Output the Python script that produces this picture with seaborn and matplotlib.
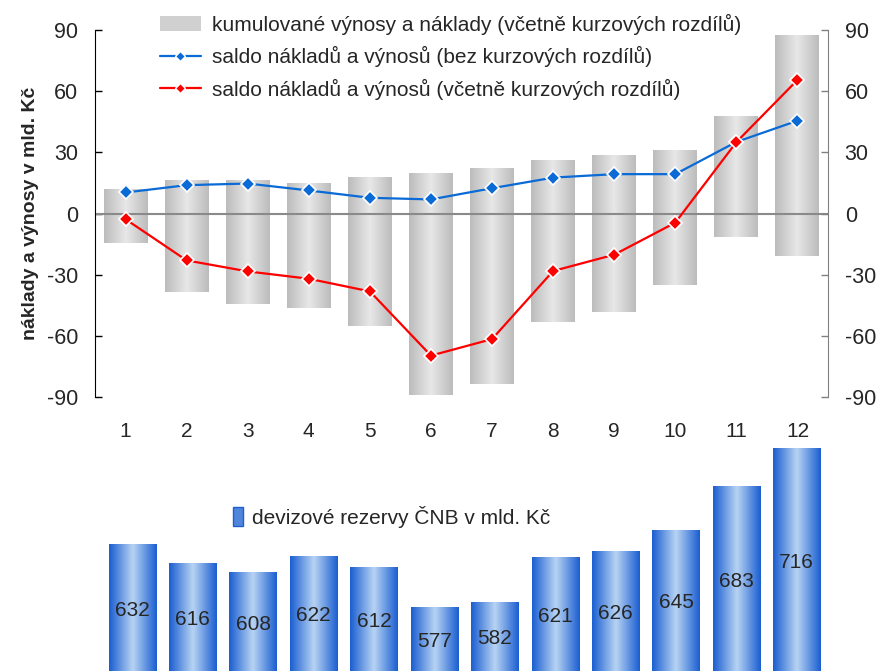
import numpy as np
import pandas as pd
import seaborn as sns
import matplotlib.pyplot as plt
from matplotlib.colors import LinearSegmentedColormap
from matplotlib.patches import Patch
from matplotlib.lines import Line2D

# data
mesice = ['1', '2', '3', '4', '5', '6', '7', '8', '9', '10', '11', '12']
vynosy = [11.5, 15.7, 15.7, 14.7, 17.4, 19.3, 22.0, 25.8, 28.4, 30.8, 47.4, 87.0]
naklady = [-14.3, -38.4, -44.4, -46.3, -55.1, -89.2, -83.8, -53.1, -48.5, -35.3, -11.6, -20.6]
saldo_bez = [10.3, 13.9, 14.7, 11.3, 7.7, 6.9, 12.4, 17.6, 19.3, 19.3, 35.1, 45.5]
saldo_vc = [-2.8, -23.0, -28.4, -32.0, -38.2, -69.7, -61.6, -28.2, -20.2, -4.5, 35.0, 65.5]
rezervy = [632, 616, 608, 622, 612, 577, 582, 621, 626, 645, 683, 716]

yticks = [-90, -60, -30, 0, 30, 60, 90]

sns.set_style('white')
plt.rcParams['font.family'] = ['Liberation Sans', 'DejaVu Sans']

df = pd.DataFrame({'mesic': mesice, 'vynosy': vynosy, 'naklady': naklady,
                   'bez': saldo_bez, 'vc': saldo_vc, 'rez': rezervy})
df['pos'] = np.arange(len(mesice))

fig = plt.figure(figsize=(8.79, 6.71), dpi=100)


def gradient(ax, patch, edge, mid):
    x0, y0 = patch.get_x(), patch.get_y()
    w, h = patch.get_width(), patch.get_height()
    cmap = LinearSegmentedColormap.from_list('g', [edge, mid, edge])
    grad = np.linspace(0, 1, 64).reshape(1, -1)
    ax.imshow(grad, cmap=cmap, extent=[x0, x0 + w, min(y0, y0 + h), max(y0, y0 + h)],
              aspect='auto', zorder=1, interpolation='bilinear')
    patch.set_visible(False)


# horni graf
ax = fig.add_axes([95 / 879, 1 - 397 / 671, 733 / 879, 367 / 671])
sns.barplot(data=df, x='mesic', y='vynosy', color='#d0d0d0', width=0.72, ax=ax)
sns.barplot(data=df, x='mesic', y='naklady', color='#d0d0d0', width=0.72, ax=ax)
for p in list(ax.patches):
    gradient(ax, p, '#bcbcbc', '#e8e8e8')

ax.axhline(0, color='#8a8a8a', lw=1.5, zorder=2)
sns.lineplot(data=df, x='pos', y='bez', color='#0a6ad6', lw=1.6, marker='D', markersize=7,
             markeredgecolor='white', markeredgewidth=1.2, ax=ax, zorder=4)
sns.lineplot(data=df, x='pos', y='vc', color='#ff0000', lw=1.6, marker='D', markersize=7,
             markeredgecolor='white', markeredgewidth=1.2, ax=ax, zorder=4)

ax.set_xlim(-0.5, 11.5)
ax.set_ylim(-90, 90)
ax.set_yticks(yticks)
ax.set_yticklabels([str(t) for t in yticks], fontsize=15.5)
ax.set_xticks(df['pos'])
ax.set_xticklabels(mesice, fontsize=15)
ax.tick_params(axis='x', length=0, pad=18)
ax.tick_params(axis='y', direction='in', length=5, width=1, color='black', pad=12)
ax.set_xlabel('')
ax.set_ylabel('náklady a výnosy v mld. Kč', fontsize=14, fontweight='bold', labelpad=6)
for s in ['top', 'right', 'bottom']:
    ax.spines[s].set_visible(False)
ax.spines['left'].set_color('black')

ax2 = ax.twinx()
ax2.set_ylim(-90, 90)
ax2.set_yticks(yticks)
ax2.set_yticklabels([str(t) for t in yticks], fontsize=15.5)
ax2.tick_params(axis='y', direction='in', length=5, width=1, color='#808080', pad=12)
for s in ['top', 'left', 'bottom']:
    ax2.spines[s].set_visible(False)
ax2.spines['right'].set_color('#808080')

handles = [Patch(facecolor='#d0d0d0', edgecolor='none'),
           Line2D([], [], color='#0a6ad6', lw=1.6, marker='D', markersize=5, markeredgecolor='white'),
           Line2D([], [], color='#ff0000', lw=1.6, marker='D', markersize=5, markeredgecolor='white')]
labels = ['kumulované výnosy a náklady (včetně kurzových rozdílů)',
          'saldo nákladů a výnosů (bez kurzových rozdílů)',
          'saldo nákladů a výnosů (včetně kurzových rozdílů)']
fig.legend(handles, labels, loc='upper left', bbox_to_anchor=(145 / 879, 1 + 1 / 671),
           frameon=False, fontsize=15, handlelength=2.0, handletextpad=0.5,
           labelspacing=0.55, borderpad=0.2)

# dolni graf - devizove rezervy
bx = fig.add_axes([102 / 879, 0, 725 / 879, 231 / 671])
sns.barplot(data=df, x='mesic', y='rez', color='#5b8fe0', width=0.78, ax=bx)
ylo, yhi = 522, 723.6
for p in list(bx.patches):
    p.set_y(ylo)
    p.set_height(p.get_height() - ylo)
    gradient(bx, p, '#1c5fd2', '#b8d4f3')
for i, v in enumerate(rezervy):
    bx.text(i, (ylo + v) / 2 - 2, str(v), ha='center', va='center', fontsize=15, zorder=5)
bx.set_xlim(-0.5, 11.5)
bx.set_ylim(ylo, yhi)
bx.axis('off')
bx.legend([Patch(facecolor='#4f86dc', edgecolor='#1c5fd2')], ['devizové rezervy ČNB v mld. Kč'],
          loc='center left', bbox_to_anchor=(112 / 725, 0.667), frameon=False, fontsize=15,
          handlelength=0.5, handleheight=1.0, handletextpad=0.4)

fig.savefig('out.png', dpi=100)
